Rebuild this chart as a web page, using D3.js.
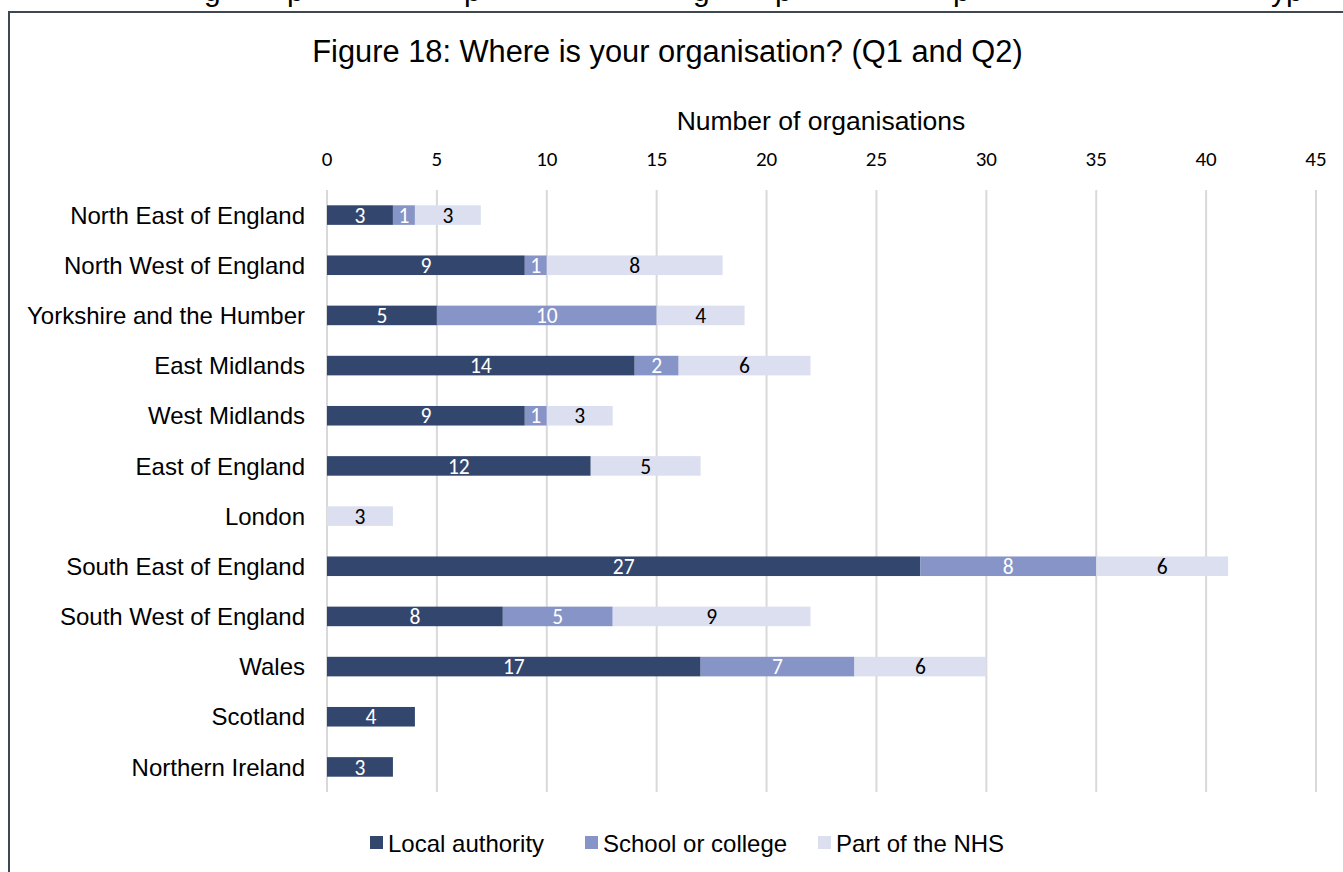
<!DOCTYPE html>
<html><head><meta charset="utf-8">
<script src="https://cdn.jsdelivr.net/npm/d3@7"></script>
<style>
html,body{margin:0;padding:0;background:#fff;overflow:hidden;}
svg{display:block;}
</style></head>
<body>
<svg id="c" width="1343" height="872"></svg>
<script>
const categories = ["North East of England","North West of England","Yorkshire and the Humber","East Midlands","West Midlands","East of England","London","South East of England","South West of England","Wales","Scotland","Northern Ireland"];
const localAuthority = [3,9,5,14,9,12,0,27,8,17,4,3];
const schoolOrCollege = [1,1,10,2,1,0,0,8,5,7,0,0];
const partOfNHS = [3,8,4,6,3,5,3,6,9,6,0,0];
const seriesNames = ["Local authority","School or college","Part of the NHS"];
const seriesColors = ["#33476e","#8794c7","#dcdfef"];
const labelColors = ["#ffffff","#ffffff","#000000"];
const xTicks = [0,5,10,15,20,25,30,35,40,45];
const titleText = "Figure 18: Where is your organisation? (Q1 and Q2)";
const axisTitle = "Number of organisations";

const svg = d3.select("#c");
const ARIAL = "'Liberation Sans', Arial, sans-serif";
const CAL = "Carlito, Lato, 'Open Sans', sans-serif";

// clipped text line from the page above (descenders only)
const topGlyphs = [["g",204],["p",287],["p",464],["g",693],["p",775],["p",953],["y",1271],["p",1286]];
svg.selectAll("text.top").data(topGlyphs).join("text")
  .attr("x", d=>d[1]).attr("y", 0.5).text(d=>d[0])
  .attr("font-family", ARIAL).attr("font-size", 30).attr("fill","#000");

// frame
svg.append("path").attr("d","M9,880 L9,12 L1350,12")
  .attr("fill","none").attr("stroke","#3e4853").attr("stroke-width",2);

const x = d3.scaleLinear().domain([0,45]).range([327,1316]);
const y = d3.scaleBand().domain(categories).range([190,792]).paddingInner(0.61).paddingOuter(0.305);

// title
svg.append("text").attr("x",667.5).attr("y",62).attr("text-anchor","middle")
  .attr("font-family",ARIAL).attr("font-size",30.8).attr("fill","#000").text(titleText);

// axis title
svg.append("text").attr("x",821).attr("y",130).attr("text-anchor","middle")
  .attr("font-family",ARIAL).attr("font-size",26.5).attr("fill","#000").text(axisTitle);

// gridlines
svg.selectAll("line.grid").data(xTicks).join("line")
  .attr("x1",d=>x(d)).attr("x2",d=>x(d)).attr("y1",190).attr("y2",792)
  .attr("stroke","#d9d9d9").attr("stroke-width",2);

// tick labels (top axis)
svg.selectAll("text.tick").data(xTicks).join("text")
  .attr("x",d=>x(d)).attr("y",166).attr("text-anchor","middle")
  .attr("font-family",CAL).attr("font-size",21).attr("fill","#000").text(d=>d);

// category labels
svg.selectAll("text.cat").data(categories).join("text")
  .attr("x",305).attr("y",d=>y(d)+y.bandwidth()/2).attr("dy","0.36em")
  .attr("text-anchor","end").attr("font-family",ARIAL).attr("font-size",24)
  .attr("fill","#000").text(d=>d);

// stacked bars
const rows = categories.map((c,i)=>({cat:c, v:[localAuthority[i],schoolOrCollege[i],partOfNHS[i]]}));
const segs = [];
rows.forEach(r=>{
  let acc=0;
  r.v.forEach((v,s)=>{ if(v>0){ segs.push({cat:r.cat,s,x0:acc,x1:acc+v,v}); } acc+=v; });
});
svg.selectAll("rect.seg").data(segs).join("rect")
  .attr("x",d=>x(d.x0)).attr("width",d=>x(d.x1)-x(d.x0))
  .attr("y",d=>y(d.cat)).attr("height",y.bandwidth())
  .attr("fill",d=>seriesColors[d.s]);
svg.selectAll("text.val").data(segs).join("text")
  .attr("x",d=>(x(d.x0)+x(d.x1))/2).attr("y",d=>y(d.cat)+y.bandwidth()/2).attr("dy","0.36em")
  .attr("text-anchor","middle").attr("font-family",CAL).attr("font-size",21.5)
  .attr("fill",d=>labelColors[d.s]).text(d=>d.v);

// legend
const legX = [370,585,818];
const lg = svg.selectAll("g.leg").data(seriesNames).join("g")
  .attr("transform",(d,i)=>`translate(${legX[i]},843)`);
lg.append("rect").attr("x",0).attr("y",-7).attr("width",13).attr("height",13)
  .attr("fill",(d,i)=>seriesColors[i]);
lg.append("text").attr("x",18).attr("y",0).attr("dy","0.36em")
  .attr("font-family",ARIAL).attr("font-size",24).attr("fill","#000").text(d=>d);
</script>
</body></html>
